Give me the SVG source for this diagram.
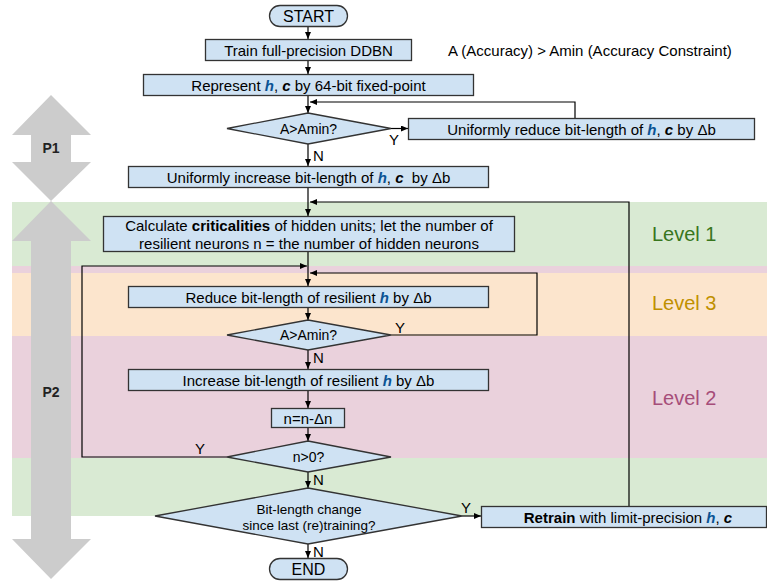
<svg xmlns="http://www.w3.org/2000/svg" width="767" height="581" viewBox="0 0 767 581">
<defs>
<marker id="ah" markerUnits="userSpaceOnUse" markerWidth="8" markerHeight="6" refX="7" refY="3" orient="auto">
<path d="M0,0 L7,3 L0,6 z" fill="#000"/>
</marker>
<style>
.box{fill:#cfe2f3;stroke:#333;stroke-width:1.3}
.t{font-family:"Liberation Sans",Arial,sans-serif;font-size:15px;fill:#000;text-anchor:middle}
.d{font-size:14px}
.d2{font-size:13.5px}
.lbl{font-family:"Liberation Sans",Arial,sans-serif;font-size:15px;fill:#000}
.hv{font-weight:bold;font-style:italic;fill:#0b5394}
.cv{font-weight:bold;font-style:italic}
.lvl{font-family:"Liberation Sans",Arial,sans-serif;font-size:20px}
.ln{fill:none;stroke:#000;stroke-width:1.2}
.gray{fill:#cccccc}
.p{font-family:"Liberation Sans",Arial,sans-serif;font-size:14px;font-weight:bold;fill:#222;text-anchor:middle}
</style>
</defs>
<rect width="767" height="581" fill="#fff"/>
<!-- bands -->
<g id="bands">
<rect x="12" y="202" width="755" height="64" fill="#d9ead3"/>
<rect x="12" y="266" width="755" height="192" fill="#ead1dc"/>
<rect x="12" y="273" width="755" height="63" fill="#fce5cd"/>
<rect x="12" y="458" width="755" height="58" fill="#d9ead3"/>
</g>
<!-- gray phase arrows -->
<g id="P1">
<polygon class="gray" points="51,95 91,135 71,135 71,162 91,162 51,201 12,162 31,162 31,135 12,135"/>
<text class="p" x="51" y="153">P1</text>
</g>
<g id="P2">
<polygon class="gray" points="51,201 91,241 71,241 71,539 91,539 51,579 12,539 31,539 31,241 12,241"/>
<text class="p" x="51" y="397">P2</text>
</g>
<text class="lvl" x="652" y="241" fill="#38761d">Level 1</text>
<text class="lvl" x="652" y="310" fill="#bf9000">Level 3</text>
<text class="lvl" x="652" y="405" fill="#a64d79">Level 2</text>
<text class="t" x="448" y="56" style="text-anchor:start">A (Accuracy) &gt; Amin (Accuracy Constraint)</text>
<!-- connectors -->
<g id="connectors">
<line class="ln" x1="308" y1="27" x2="308" y2="39" marker-end="url(#ah)"/>
<line class="ln" x1="308" y1="61" x2="308" y2="74" marker-end="url(#ah)"/>
<line class="ln" x1="308" y1="96" x2="308" y2="113" marker-end="url(#ah)"/>
<polyline class="ln" points="575,118 575,102 310,102" marker-end="url(#ah)"/>
<line class="ln" x1="391" y1="128.5" x2="408" y2="128.5" marker-end="url(#ah)"/>
<line class="ln" x1="308" y1="144" x2="308" y2="166" marker-end="url(#ah)"/>
<line class="ln" x1="308" y1="187" x2="308" y2="216" marker-end="url(#ah)"/>
<polyline class="ln" points="629,506 629,202 310,202" marker-end="url(#ah)"/>
<line class="ln" x1="308" y1="252" x2="308" y2="286" marker-end="url(#ah)"/>
<polyline class="ln" points="227,457 82,457 82,266 307,266" marker-end="url(#ah)"/>
<polyline class="ln" points="391,335 537,335 537,273 310,273" marker-end="url(#ah)"/>
<line class="ln" x1="308" y1="307" x2="308" y2="320" marker-end="url(#ah)"/>
<line class="ln" x1="308" y1="350" x2="308" y2="369" marker-end="url(#ah)"/>
<line class="ln" x1="308" y1="391" x2="308" y2="408" marker-end="url(#ah)"/>
<line class="ln" x1="308" y1="428" x2="308" y2="441" marker-end="url(#ah)"/>
<line class="ln" x1="308" y1="472" x2="308" y2="488" marker-end="url(#ah)"/>
<line class="ln" x1="462" y1="516" x2="481" y2="516" marker-end="url(#ah)"/>
<line class="ln" x1="308" y1="544" x2="308" y2="558" marker-end="url(#ah)"/>
<text class="lbl" x="389" y="145">Y</text>
<text class="lbl" x="313" y="161">N</text>
<text class="lbl" x="395" y="333">Y</text>
<text class="lbl" x="313" y="363">N</text>
<text class="lbl" x="195" y="454">Y</text>
<text class="lbl" x="313" y="485">N</text>
<text class="lbl" x="461" y="513">Y</text>
<text class="lbl" x="313" y="557">N</text>
</g>
<!-- nodes -->
<g id="start">
<rect class="box" x="269.5" y="5.5" width="78" height="21" rx="10.5"/>
<text class="t" x="308.5" y="21.5" style="font-size:16px">START</text>
</g>
<g id="train">
<rect class="box" x="205.5" y="39.5" width="206" height="21"/>
<text class="t" x="308.5" y="55.5">Train full-precision DDBN</text>
</g>
<g id="represent">
<rect class="box" x="143.5" y="74.5" width="330" height="21"/>
<text class="t" x="308.5" y="90.5">Represent <tspan class="hv">h</tspan>, <tspan class="cv">c</tspan> by 64-bit fixed-point</text>
</g>
<g id="check1">
<polygon class="box" points="308,113 391,128.5 308,144 227,128.5"/>
<text class="t d" x="308.5" y="133.5">A&gt;Amin?</text>
</g>
<g id="reduce-all">
<rect class="box" x="408.5" y="118.5" width="346" height="21"/>
<text class="t" x="581.5" y="134.5">Uniformly reduce bit-length of <tspan class="hv">h</tspan>, <tspan class="cv">c</tspan> by Δb</text>
</g>
<g id="increase-all">
<rect class="box" x="128.5" y="166.5" width="360" height="21"/>
<text class="t" x="308.5" y="182.5" xml:space="preserve">Uniformly increase bit-length of <tspan class="hv">h</tspan>, <tspan class="cv">c</tspan>  by Δb</text>
</g>
<g id="calculate">
<rect class="box" x="103.5" y="216.5" width="411" height="35"/>
<text class="t" x="309" y="230.5">Calculate <tspan font-weight="bold">criticalities</tspan> of hidden units; let the number of</text>
<text class="t" x="309" y="248.5">resilient neurons n = the number of hidden neurons</text>
</g>
<g id="reduce-res">
<rect class="box" x="128.5" y="286.5" width="360" height="21"/>
<text class="t" x="308.5" y="302.5">Reduce bit-length of resilient <tspan class="hv">h</tspan> by Δb</text>
</g>
<g id="check2">
<polygon class="box" points="308,320 391,335 308,350 227,335"/>
<text class="t d" x="308.5" y="340">A&gt;Amin?</text>
</g>
<g id="increase-res">
<rect class="box" x="128.5" y="369.5" width="360" height="21"/>
<text class="t" x="308.5" y="385.5">Increase bit-length of resilient <tspan class="hv">h</tspan> by Δb</text>
</g>
<g id="n-update">
<rect class="box" x="271.5" y="408.5" width="73" height="19"/>
<text class="t" x="308" y="423.5">n=n-Δn</text>
</g>
<g id="check-n">
<polygon class="box" points="308,441 391,457 308,472 227,457"/>
<text class="t d" x="308.5" y="462">n&gt;0?</text>
</g>
<g id="check-change">
<polygon class="box" points="308,488 462,516 308,544 155,516"/>
<text class="t d2" x="309" y="514">Bit-length change</text>
<text class="t d2" x="309" y="530">since last (re)training?</text>
</g>
<g id="retrain">
<rect class="box" x="481.5" y="506.5" width="285" height="21"/>
<text class="t" x="628" y="522.5"><tspan font-weight="bold">Retrain</tspan> with limit-precision <tspan class="hv">h</tspan>, <tspan class="cv">c</tspan></text>
</g>
<g id="end">
<rect class="box" x="269.5" y="558.5" width="78" height="21" rx="10.5"/>
<text class="t" x="308.5" y="574.5" style="font-size:16px">END</text>
</g>
</svg>
